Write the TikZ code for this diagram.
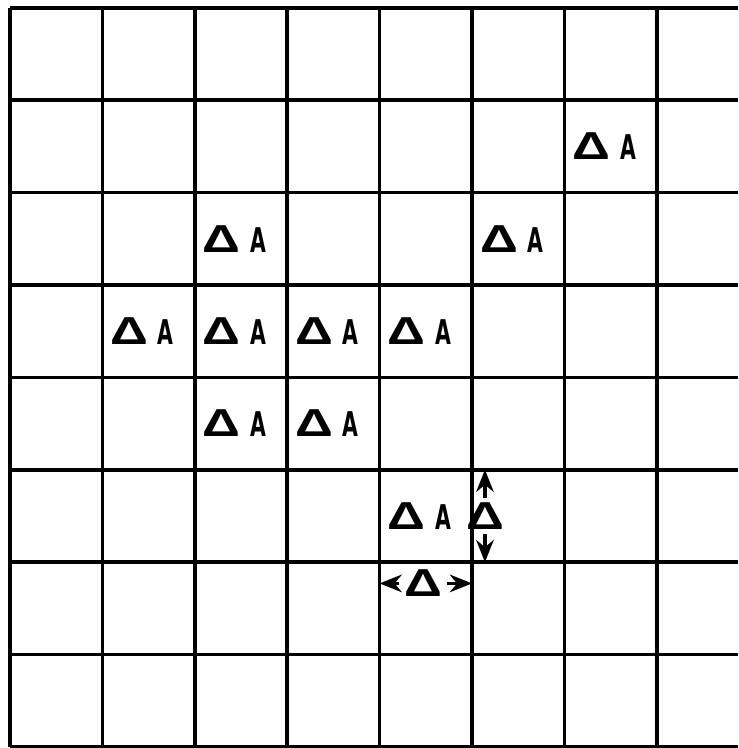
\documentclass[tikz,border=0pt]{standalone}
\usepackage{fontspec}
\setsansfont{DejaVu Sans}
\newfontfamily\narrowsf[FakeStretch=0.6]{DejaVu Sans}
\newfontfamily\deltasf[FakeStretch=1.35]{Liberation Sans}
\usetikzlibrary{arrows.meta, positioning, calc}
\newcommand{\dlt}{{\deltasf\bfseries\fontsize{12}{14}\selectfont Δ}}
\newcommand{\dA}{\dlt\hspace{3pt}{\narrowsf\bfseries\fontsize{10.5}{12}\selectfont A}}
\tikzset{
  every picture/.style={font=\sffamily\bfseries, line width=1pt},
  gridline/.style={draw=black, line width=1.1pt},
  da/.style={font=\sffamily\bfseries\fontsize{8.5}{10}\selectfont, inner sep=1pt},
  dimarrow/.style={-{Stealth[length=2.4mm, width=1.9mm]}, draw=black, line width=1pt},
}

\begin{document}
\begin{tikzpicture}[x=1cm, y=1cm]
  \useasboundingbox (-0.108,-0.011) rectangle (7.88,8.084);
  % grid
  \foreach \i in {0,...,7}
    \draw[gridline] (\i,0) -- (\i,8);
  \foreach \j in {0,...,8}
    \draw[gridline] (0,\j) -- (7.88,\j);
  % cells holding Delta A, (column/row) from bottom left
  \foreach \c/\r in {6/6, 2/5, 5/5, 1/4, 2/4, 3/4, 4/4, 2/3, 3/3, 4/2}
    \node[da] (a\c\r) at (\c+0.43,\r+0.5) {\dA};
  % step sizes
  \node[da] (dv) at (5.14,2.5) {\dlt};
  \coordinate (dvtop) at (5.14,3);
  \coordinate (dvbot) at (5.14,2);
  \draw[dimarrow] (dv) -- (dvtop);
  \draw[dimarrow] (dv) -- (dvbot);
  \node[da] (dh) at (4.47,1.77) {\dlt};
  \coordinate (dhleft) at (4,1.77);
  \coordinate (dhright) at (5,1.77);
  \draw[dimarrow] (dh) -- (dhleft);
  \draw[dimarrow] (dh) -- (dhright);
\end{tikzpicture}
\end{document}
